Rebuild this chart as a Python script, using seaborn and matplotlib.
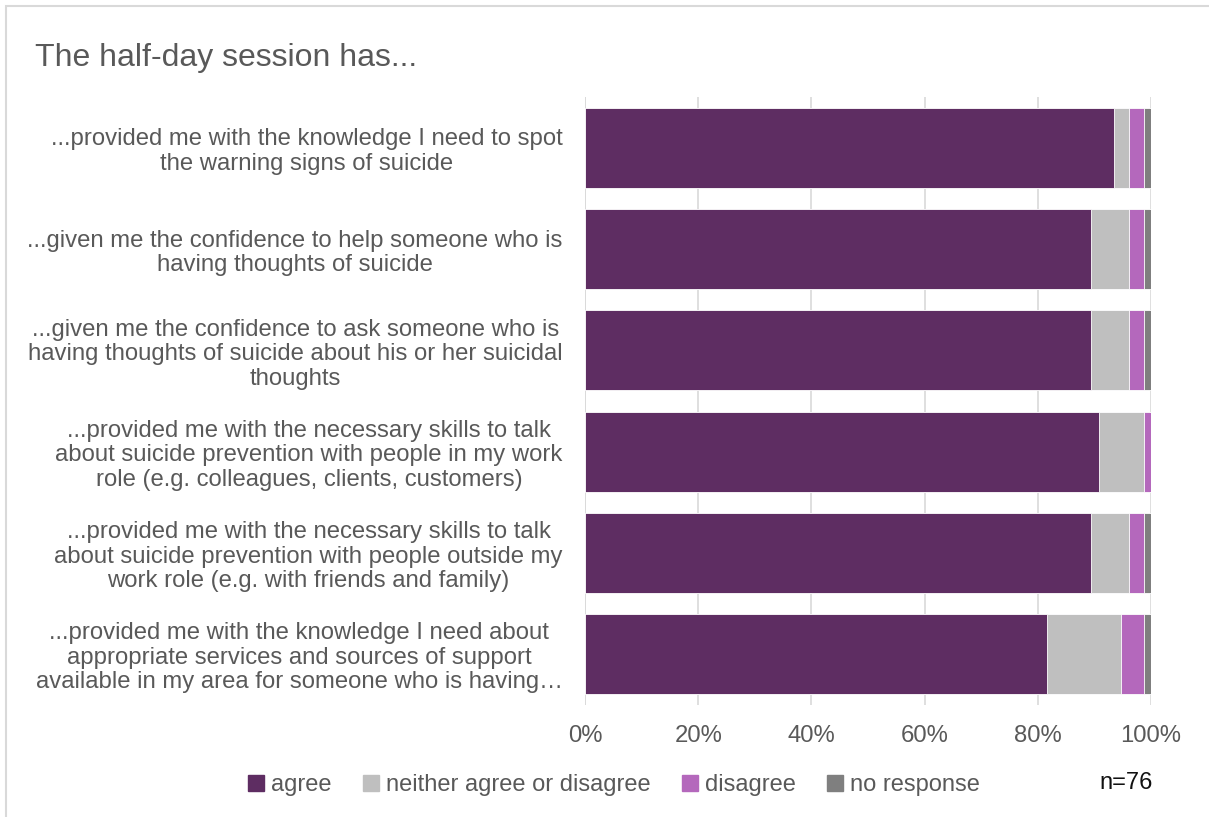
import matplotlib
matplotlib.use("Agg")
import matplotlib.pyplot as plt
from matplotlib.lines import Line2D
from matplotlib.patches import Rectangle
import seaborn as sns
import pandas as pd
import numpy as np

sns.set_theme(style="white")
plt.rcParams["font.family"] = ["Liberation Sans", "DejaVu Sans"]

# Survey statements (y axis)
statements = [
    "...provided me with the knowledge I need to spot\nthe warning signs of suicide",
    "...given me the confidence to help someone who is\nhaving thoughts of suicide",
    "...given me the confidence to ask someone who is\nhaving thoughts of suicide about his or her suicidal\nthoughts",
    "...provided me with the necessary skills to talk\nabout suicide prevention with people in my work\nrole (e.g. colleagues, clients, customers)",
    "...provided me with the necessary skills to talk\nabout suicide prevention with people outside my\nwork role (e.g. with friends and family)",
    "...provided me with the knowledge I need about\nappropriate services and sources of support\navailable in my area for someone who is having\u2026",
]

# Response counts per statement (n = 76)
n_total = 76
agree = [71, 68, 68, 69, 68, 62]
neither = [2, 5, 5, 6, 5, 10]
disagree = [2, 2, 2, 1, 2, 3]
no_response = [1, 1, 1, 0, 1, 1]

responses = ["agree", "neither agree or disagree", "disagree", "no response"]
colors = ["#5E2D62", "#BFBFBF", "#B468BC", "#7F7F7F"]
x_ticks = [0, 20, 40, 60, 80, 100]
x_ticklabels = ["0%", "20%", "40%", "60%", "80%", "100%"]

df = pd.DataFrame({
    "statement": statements,
    "agree": agree,
    "neither agree or disagree": neither,
    "disagree": disagree,
    "no response": no_response,
})
pct = df[responses].div(n_total) * 100
cum = pct.cumsum(axis=1)
cum["statement"] = df["statement"]

fig = plt.figure(figsize=(12.09, 8.17), dpi=100)
W, H = 1209, 817
ax = fig.add_axes([585 / W, 1 - 704.5 / H, (1151 - 585) / W, (704.5 - 97.4) / H])

# Stacked bars: draw cumulative totals from the widest segment down
for resp, col in reversed(list(zip(responses, colors))):
    sns.barplot(data=cum, x=resp, y="statement", orient="h", color=col,
                width=0.79, edgecolor="white", linewidth=0.6, ax=ax,
                saturation=1, zorder=3)

ax.set_xlim(0, 100)
ax.set_xticks(x_ticks)
ax.set_xticklabels(x_ticklabels)
ax.set_xlabel("")
ax.set_ylabel("")
ax.grid(axis="x", color="#D9D9D9", linewidth=1.2, zorder=0)
ax.set_axisbelow(True)
for s in ax.spines.values():
    s.set_visible(False)
ax.axvline(0, color="#D9D9D9", linewidth=1.2, zorder=1)
ax.tick_params(axis="x", length=0, pad=15, labelsize=17.2, labelcolor="#595959")
ax.tick_params(axis="y", length=0, pad=16, labelsize=17.2, labelcolor="#595959")
for lbl in ax.get_yticklabels():
    lbl.set_multialignment("center")
    lbl.set_linespacing(1.15)

fig.text(35 / W, 1 - 58 / H, "The half-day session has...", fontsize=23,
         color="#595959", va="center", ha="left")

handles = [Line2D([], [], marker="s", linestyle="", markersize=11,
                  markerfacecolor=c, markeredgecolor=c) for c in colors]
fig.legend(handles, responses, loc="center", bbox_to_anchor=(612 / W, 1 - 785 / H),
           ncol=4, frameon=False, fontsize=17, handletextpad=0.15,
           columnspacing=1.15, labelcolor="#595959", handlelength=1.0)

fig.text(1126 / W, 1 - 783 / H, "n=76", fontsize=17, color="#111111",
         ha="center", va="center")

# light frame around the chart area
fig.patches.append(Rectangle((6 / W, -0.1), 1.2, 1 - 6 / H + 0.1,
                             transform=fig.transFigure, fill=False,
                             edgecolor="#D9D9D9", linewidth=1.5, zorder=0))

fig.savefig("out.png", dpi=100, facecolor="white")
